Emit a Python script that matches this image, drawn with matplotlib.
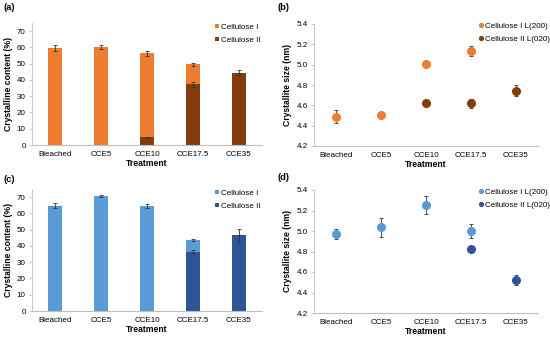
import matplotlib.pyplot as plt
import numpy as np

plt.rcParams['font.family'] = ['Liberation Sans', 'DejaVu Sans']

# Data
treatments = ['Bleached', 'CCE5', 'CCE10', 'CCE17.5', 'CCE35']

# (a) crystalline content, first material (orange)
a_cell2 = [0, 0, 4.8, 37.2, 44.3]
a_cell2_err = [0, 0, 0.4, 1.8, 1.5]
a_cell1 = [59.5, 60.2, 51.5, 12.3, 0]
a_total_err = [1.8, 1.2, 1.5, 1.2, 0]

# (b) crystallite size, first material
b_cell1 = [4.49, 4.505, 5.005, 5.135, np.nan]
b_cell1_err = [0.065, 0.01, 0.01, 0.05, 0]
b_cell2 = [np.nan, np.nan, 4.625, 4.62, 4.745]
b_cell2_err = [0, 0, 0.03, 0.045, 0.055]

# (c) crystalline content, second material (blue)
c_cell2 = [0, 0, 0, 36.5, 46.7]
c_cell2_err = [0, 0, 0, 1.0, 4.0]
c_cell1 = [64.8, 70.8, 64.5, 7.3, 0]
c_total_err = [1.5, 0.5, 1.2, 0.5, 0]

# (d) crystallite size, second material
d_cell1 = [4.97, 5.035, 5.255, 5.0, np.nan]
d_cell1_err = [0.045, 0.09, 0.09, 0.07, 0]
d_cell2 = [np.nan, np.nan, np.nan, 4.825, 4.525]
d_cell2_err = [0, 0, 0, 0.01, 0.05]

orange = '#ED7D31'
brown = '#843C0C'
lblue = '#5B9BD5'
dblue = '#2F5597'
axis_col = '#BFBFBF'

W, H = 550, 338
fig = plt.figure(figsize=(W / 100, H / 100), dpi=100)
fig.patch.set_facecolor('white')


def px_axes(x0, x1, ytop, ybot):
    return fig.add_axes([x0 / W, 1 - ybot / H, (x1 - x0) / W, (ybot - ytop) / H])


def style(ax, ylabel):
    for s in ['top', 'right']:
        ax.spines[s].set_visible(False)
    ax.spines['left'].set_color(axis_col)
    ax.spines['bottom'].set_color(axis_col)
    ax.spines['left'].set_linewidth(0.6)
    ax.spines['bottom'].set_linewidth(0.8)
    ax.tick_params(axis='y', length=2.5, width=0.6, color=axis_col, labelsize=5.8, pad=2)
    ax.tick_params(axis='x', length=0, labelsize=5.8, pad=4)
    ax.set_xticks(np.arange(len(treatments)))
    ax.set_xticklabels(treatments)
    ax.set_xlim(-0.5, len(treatments) - 0.5)
    ax.set_xlabel('Treatment', fontsize=6.2, fontweight='bold', labelpad=1)
    ax.set_ylabel(ylabel, fontsize=6.2, fontweight='bold', labelpad=3)


def bar_panel(ax, c1, c2, c2err, toterr, col1, col2):
    x = np.arange(len(treatments))
    c1 = np.array(c1)
    c2 = np.array(c2)
    ax.bar(x, c2, 0.32, color=col2, label='Cellulose II', zorder=2)
    ax.bar(x, c1, 0.32, bottom=c2, color=col1, label='Cellulose I', zorder=2)
    tot = c1 + c2
    mask = tot > 0
    ax.errorbar(x[mask], tot[mask], yerr=np.array(toterr)[mask], fmt='none',
                ecolor='#333333', elinewidth=0.6, capsize=1.5, capthick=0.6, zorder=3)
    m2 = (c2 > 0) & (np.array(c2err) > 0)
    ax.errorbar(x[m2], c2[m2], yerr=np.array(c2err)[m2], fmt='none',
                ecolor='#333333', elinewidth=0.6, capsize=1.5, capthick=0.6, zorder=3)
    ax.set_ylim(0, 75)
    ax.set_yticks(np.arange(0, 71, 10))
    h, l = ax.get_legend_handles_labels()
    ax.legend(h[::-1], l[::-1], loc='upper right', bbox_to_anchor=(1.01, 1.02), frameon=False,
              fontsize=5.8, handlelength=0.5, handleheight=0.5, handletextpad=0.3,
              labelspacing=0.7, borderaxespad=0)


def dot_panel(ax, s1, e1, s2, e2, col1, col2):
    x = np.arange(len(treatments))
    ax.errorbar(x, s1, yerr=e1, fmt='o', color=col1, ms=5.5, ecolor='#333333',
                elinewidth=0.6, capsize=1.5, capthick=0.6, label='Cellulose I L(200)', zorder=3)
    ax.errorbar(x, s2, yerr=e2, fmt='o', color=col2, ms=5.5, ecolor='#333333',
                elinewidth=0.6, capsize=1.5, capthick=0.6, label='Cellulose II L(020)', zorder=3)
    ax.set_ylim(4.2, 5.4)
    ax.set_yticks(np.arange(4.2, 5.41, 0.2))
    ax.set_yticklabels(['%.1f' % v for v in np.arange(4.2, 5.41, 0.2)])
    h, l = ax.get_legend_handles_labels()
    h = [hh[0] for hh in h]
    ax.legend(h, l, loc='upper right', bbox_to_anchor=(1.07, 1.04), frameon=False,
              fontsize=5.8, markerscale=0.5, handlelength=0.6, handletextpad=0.3,
              labelspacing=0.7, borderaxespad=0)


ax_a = px_axes(32, 262, 23, 145)
bar_panel(ax_a, a_cell1, a_cell2, a_cell2_err, a_total_err, orange, brown)
style(ax_a, 'Crystalline content (%)')

ax_b = px_axes(314, 538, 24, 146)
dot_panel(ax_b, b_cell1, b_cell1_err, b_cell2, b_cell2_err, orange, brown)
style(ax_b, 'Crystallite size (nm)')

ax_c = px_axes(32, 262, 189, 311)
bar_panel(ax_c, c_cell1, c_cell2, c_cell2_err, c_total_err, lblue, dblue)
style(ax_c, 'Crystalline content (%)')

ax_d = px_axes(314, 538, 190, 313)
dot_panel(ax_d, d_cell1, d_cell1_err, d_cell2, d_cell2_err, lblue, dblue)
style(ax_d, 'Crystallite size (nm)')

for lab, xp, yp in [('(a)', 3, 8), ('(b)', 278, 8), ('(c)', 3, 179), ('(d)', 278, 177)]:
    fig.text(xp / W, 1 - yp / H, lab, fontsize=6.8, fontweight='bold', va='center', ha='left')

fig.savefig('out.png', dpi=100, facecolor='white')
